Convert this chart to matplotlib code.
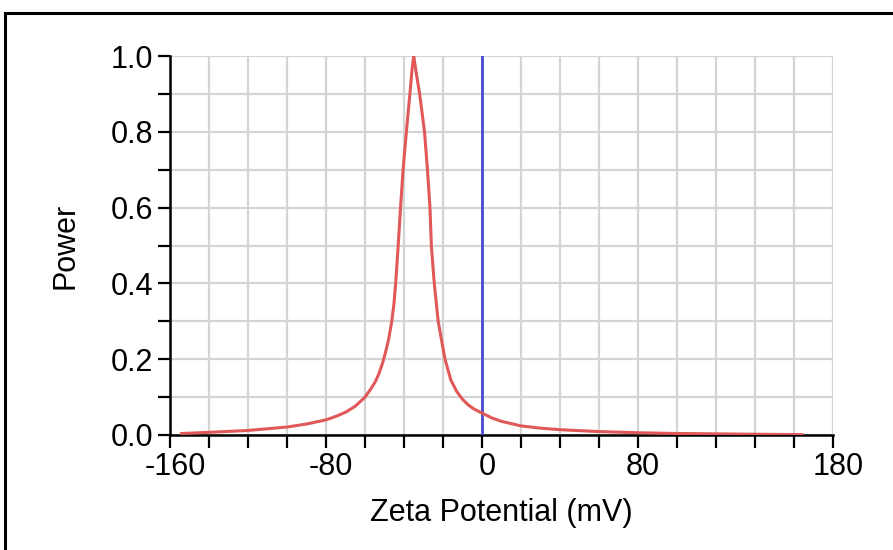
import matplotlib

matplotlib.use("Agg")

import matplotlib.pyplot as plt
import matplotlib.transforms as mtransforms
from matplotlib.patches import Rectangle


# Zeta potential distribution
zeta_mv = [
    -154, -140, -120, -100, -90, -80, -75, -70, -65, -60, -57, -55, -53,
    -51, -49.5, -48, -46.3, -45.2, -44.3, -43, -41.8, -40.5, -38.8, -37,
    -35.8, -35, -34.2, -32, -29.5, -28, -26.7, -26, -24.5, -22.5, -19,
    -16, -13, -10, -7, -4, 0, 5, 10, 20, 30, 40, 60, 80, 100, 120, 140,
    164,
]
power = [
    0.004, 0.007, 0.012, 0.021, 0.029, 0.04, 0.049, 0.06, 0.076, 0.1,
    0.122, 0.138, 0.16, 0.19, 0.218, 0.25, 0.3, 0.345, 0.4, 0.5, 0.6,
    0.7, 0.8, 0.9, 0.97, 1.0, 0.97, 0.9, 0.8, 0.7, 0.6, 0.5, 0.4, 0.3,
    0.2, 0.145, 0.115, 0.094, 0.079, 0.068, 0.058, 0.045, 0.036, 0.024,
    0.018, 0.014, 0.009, 0.006, 0.004, 0.003, 0.002, 0.001,
]

x_ticks = list(range(-160, 181, 20))
x_tick_labels = {-160: "-160", -80: "-80", 0: "0", 80: "80", 180: "180"}
y_ticks = [i / 10 for i in range(11)]
y_tick_labels = {0: "0.0", 2: "0.2", 4: "0.4", 6: "0.6", 8: "0.8", 10: "1.0"}

marker_line = 0


def main() -> None:
    plt.rcParams["font.family"] = ["Liberation Sans", "DejaVu Sans"]

    figure = plt.figure(figsize=(8.93, 5.5), dpi=100)
    axis = figure.add_axes([0.1904, 0.2091, 0.7425, 0.689])

    # outer frame, cut off at the right and bottom edges
    figure.patches.append(
        Rectangle(
            (5 / 893, -0.1),
            1.2,
            1.1 - 13 / 550,
            transform=figure.transFigure,
            fill=False,
            edgecolor="black",
            linewidth=2.2,
        )
    )

    axis.set_xlim(-160, 180)
    axis.set_ylim(0, 1.0)

    axis.set_xticks(x_ticks)
    axis.set_xticklabels([x_tick_labels.get(t, "") for t in x_ticks])
    axis.set_yticks(y_ticks)
    axis.set_yticklabels(
        [y_tick_labels.get(round(t * 10), "") for t in y_ticks]
    )

    axis.grid(True, color="#d4d4d4", linewidth=1.6)
    axis.set_axisbelow(True)

    for side in ("top", "right"):
        axis.spines[side].set_visible(False)
    for side in ("left", "bottom"):
        axis.spines[side].set_linewidth(1.8)
        axis.spines[side].set_color("black")

    axis.tick_params(
        axis="both",
        direction="out",
        length=9,
        width=1.6,
        labelsize=22,
        pad=3,
    )

    # labels sit slightly right of their ticks in the reference
    offset = mtransforms.ScaledTranslation(5 / 100, 0, figure.dpi_scale_trans)
    for label in axis.get_xticklabels():
        label.set_transform(label.get_transform() + offset)

    axis.axvline(marker_line, color="#4a4ad0", linewidth=2.0, zorder=3)
    axis.plot(
        zeta_mv,
        power,
        color="#e05858",
        linewidth=2.2,
        solid_joinstyle="round",
        zorder=4,
    )

    axis.set_xlabel("Zeta Potential (mV)", fontsize=22, labelpad=12)
    axis.set_ylabel("Power", fontsize=22, labelpad=22)

    figure.savefig("out.png", dpi=100)


if __name__ == "__main__":
    main()
